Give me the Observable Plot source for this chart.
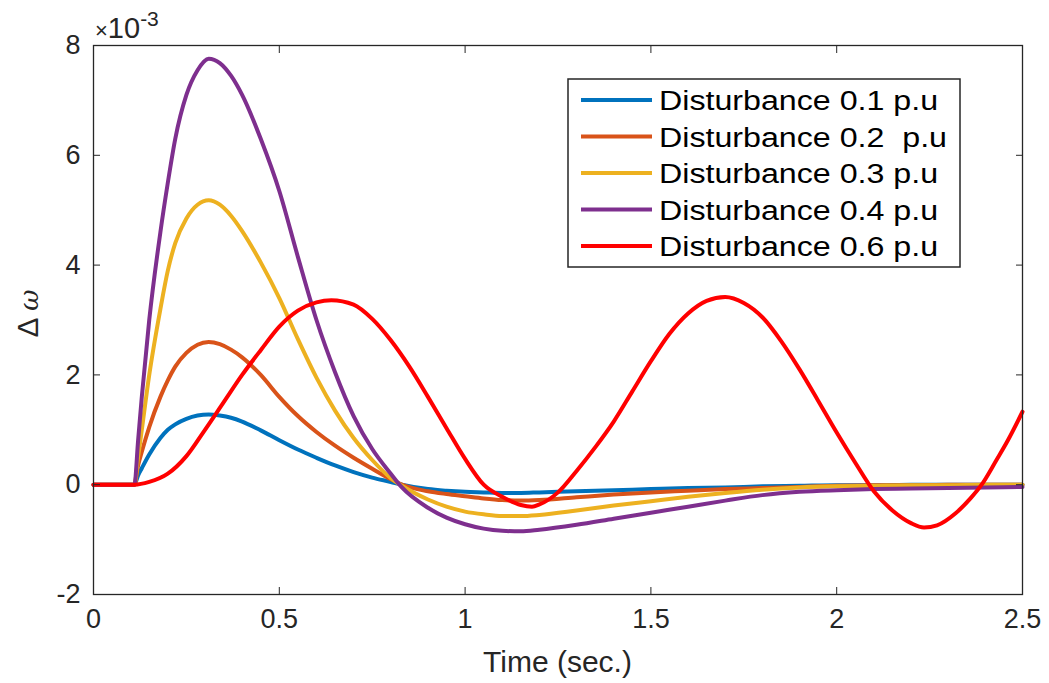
<!DOCTYPE html>
<html>
<head>
<meta charset="utf-8">
<script src="https://cdn.jsdelivr.net/npm/d3@7"></script>
<script src="https://cdn.jsdelivr.net/npm/@observablehq/plot@0.6"></script>
<style>
  html, body { margin: 0; padding: 0; background: #fff; }
  #chart svg { display: block; }
</style>
</head>
<body>
<div id="chart"></div>
<script>
// Frequency deviation Δω (×10^-3) after a load disturbance, for several disturbance sizes.

// Shared time grid (s) for the four damped responses
const timeDamped = [0, 0.11, 0.12, 0.13, 0.15, 0.18, 0.2, 0.22, 0.25, 0.28,
  0.31, 0.34, 0.37, 0.4, 0.45, 0.5, 0.55, 0.6, 0.65, 0.7,
  0.75, 0.8, 0.83, 0.9, 0.95, 1.0, 1.05, 1.1, 1.15, 1.2,
  1.3, 1.4, 1.5, 1.6, 1.7, 1.8, 1.9, 2.0, 2.1, 2.2,
  2.3, 2.4, 2.5];

const dw01 = [0, 0, 0.17, 0.3, 0.55, 0.85, 1.0, 1.1, 1.2, 1.26,
  1.28, 1.26, 1.22, 1.15, 0.99, 0.81, 0.64, 0.49, 0.35, 0.23,
  0.13, 0.05, 0, -0.08, -0.11, -0.13, -0.14, -0.15, -0.15, -0.14,
  -0.12, -0.1, -0.08, -0.06, -0.05, -0.03, -0.02, -0.01, -0.01, 0,
  0, 0, 0];

const dw02 = [0, 0, 0.35, 0.6, 1.05, 1.6, 1.9, 2.15, 2.4, 2.55,
  2.6, 2.56, 2.46, 2.32, 2.0, 1.6, 1.25, 0.96, 0.71, 0.49,
  0.29, 0.1, 0, -0.12, -0.17, -0.21, -0.25, -0.28, -0.29, -0.28,
  -0.23, -0.18, -0.14, -0.11, -0.08, -0.06, -0.04, -0.02, -0.01, -0.01,
  0, 0, 0];

const dw03 = [0, 0, 0.5, 1.0, 2.0, 3.2, 3.9, 4.4, 4.85, 5.1,
  5.18, 5.1, 4.9, 4.62, 4.05, 3.4, 2.65, 1.95, 1.35, 0.85,
  0.45, 0.12, -0.02, -0.27, -0.4, -0.49, -0.54, -0.57, -0.57, -0.55,
  -0.47, -0.38, -0.3, -0.22, -0.15, -0.09, -0.05, -0.03, -0.02, -0.01,
  -0.01, 0, 0];

const dw04 = [0, 0, 0.8, 1.6, 3.0, 4.6, 5.5, 6.3, 7.1, 7.55,
  7.76, 7.68, 7.45, 7.1, 6.3, 5.35, 4.15, 3.0, 2.05, 1.25,
  0.65, 0.2, -0.05, -0.42, -0.6, -0.72, -0.8, -0.84, -0.85, -0.82,
  -0.73, -0.62, -0.51, -0.4, -0.29, -0.19, -0.13, -0.1, -0.08, -0.07,
  -0.06, -0.05, -0.04];

// The 0.6 p.u case keeps oscillating, so it has its own time grid
const time06 = [0, 0.11, 0.15, 0.2, 0.25, 0.3, 0.35, 0.4, 0.45, 0.5,
  0.55, 0.6, 0.64, 0.7, 0.75, 0.8, 0.85, 0.9, 0.95, 1.0,
  1.05, 1.1, 1.15, 1.18, 1.2, 1.25, 1.3, 1.35, 1.4, 1.45,
  1.5, 1.55, 1.6, 1.65, 1.7, 1.75, 1.8, 1.85, 1.9, 1.95,
  2.0, 2.05, 2.1, 2.15, 2.2, 2.235, 2.27, 2.32, 2.36, 2.39,
  2.43, 2.46, 2.5];

const dw06 = [0, 0, 0.05, 0.2, 0.52, 1.0, 1.5, 2.0, 2.45, 2.88,
  3.17, 3.32, 3.36, 3.28, 3.02, 2.63, 2.15, 1.6, 1.03, 0.47,
  0, -0.22, -0.37, -0.4, -0.36, -0.14, 0.25, 0.68, 1.15, 1.7,
  2.25, 2.75, 3.12, 3.35, 3.42, 3.31, 3.05, 2.62, 2.1, 1.53,
  0.95, 0.4, -0.12, -0.47, -0.7, -0.78, -0.74, -0.52, -0.25, 0,
  0.45, 0.8, 1.33];

const seriesNames = ["Disturbance 0.1 p.u", "Disturbance 0.2  p.u", "Disturbance 0.3 p.u",
  "Disturbance 0.4 p.u", "Disturbance 0.6 p.u"];
const seriesColors = ["#0072BD", "#D95319", "#EDB120", "#7E2F8E", "#FF0000"];
const seriesTimes = [timeDamped, timeDamped, timeDamped, timeDamped, time06];
const seriesValues = [dw01, dw02, dw03, dw04, dw06];

const xTicks = [0, 0.5, 1, 1.5, 2, 2.5];
const xTickLabels = ["0", "0.5", "1", "1.5", "2", "2.5"];
const yTicks = [-2, 0, 2, 4, 6, 8];
const yTickLabels = ["-2", "0", "2", "4", "6", "8"];

const rows = seriesNames.flatMap((name, k) =>
  seriesTimes[k].map((t, i) => ({t, dw: seriesValues[k][i], name})));

const axisColor = "#262626";
const font = "'Liberation Sans', Arial, Helvetica, sans-serif";

const plot = Plot.plot({
  width: 1049,
  height: 683,
  marginTop: 45,
  marginRight: 27,
  marginBottom: 89,
  marginLeft: 93,
  style: {fontFamily: font, fontSize: "27px", color: axisColor, background: "#fff"},
  x: {domain: [0, 2.5]},
  y: {domain: [-2, 8]},
  color: {domain: seriesNames, range: seriesColors},
  marks: [
    Plot.line(rows, {x: "t", y: "dw", z: "name", stroke: "name", strokeWidth: 4, curve: "monotone-x"}),
    Plot.frame({stroke: axisColor, strokeWidth: 1.3}),
    Plot.axisX(xTicks, {anchor: "bottom", tickSize: -7, tickPadding: 21, label: null,
      tickFormat: d => xTickLabels[xTicks.indexOf(d)]}),
    Plot.axisX(xTicks, {anchor: "top", tickSize: -7, label: null, tickFormat: () => ""}),
    Plot.axisY(yTicks, {anchor: "left", tickSize: -7, tickPadding: 20, label: null,
      tickFormat: d => yTickLabels[yTicks.indexOf(d)]}),
    Plot.axisY(yTicks, {anchor: "right", tickSize: -7, label: null, tickFormat: () => ""})
  ]
});

document.getElementById("chart").append(plot);

// Axis titles, exponent and legend
const svg = d3.select(plot);
const [xL, xR] = plot.scale("x").range;
const [yB, yT] = plot.scale("y").range;

svg.append("text")
  .attr("x", (xL + xR) / 2).attr("y", yB + 78)
  .attr("text-anchor", "middle")
  .attr("fill", axisColor).attr("font-family", font).attr("font-size", 30)
  .text("Time (sec.)");

const yTitle = svg.append("text")
  .attr("transform", `translate(38,${(yB + yT) / 2 - 6}) rotate(-90)`)
  .attr("text-anchor", "middle")
  .attr("fill", axisColor).attr("font-family", font).attr("font-size", 30);
yTitle.append("tspan").text("Δ ");
yTitle.append("tspan").attr("font-style", "italic").attr("font-family", "'DejaVu Serif', serif")
  .attr("font-size", 26).text("ω");

const expo = svg.append("text")
  .attr("x", xL + 2).attr("y", yT - 7)
  .attr("text-anchor", "start")
  .attr("fill", axisColor).attr("font-family", font).attr("font-size", 29);
expo.append("tspan").attr("font-size", 22).text("×");
expo.append("tspan").text("10");
expo.append("tspan").attr("font-size", 21).attr("dy", -12).text("-3");

const legend = svg.append("g").attr("transform", "translate(568,79)");
legend.append("rect")
  .attr("width", 392).attr("height", 188)
  .attr("fill", "#fff").attr("stroke", axisColor).attr("stroke-width", 1.5);
seriesNames.forEach((name, i) => {
  const cy = 21 + i * 36.5;
  legend.append("line")
    .attr("x1", 13).attr("x2", 84).attr("y1", cy).attr("y2", cy)
    .attr("stroke", seriesColors[i]).attr("stroke-width", 4);
  legend.append("text")
    .attr("transform", `translate(91,${cy + 10}) scale(1.15,1)`)
    .attr("text-anchor", "start")
    .attr("fill", "#000").attr("font-family", font).attr("font-size", 28)
    .style("white-space", "pre")
    .text(name);
});
</script>
</body>
</html>
